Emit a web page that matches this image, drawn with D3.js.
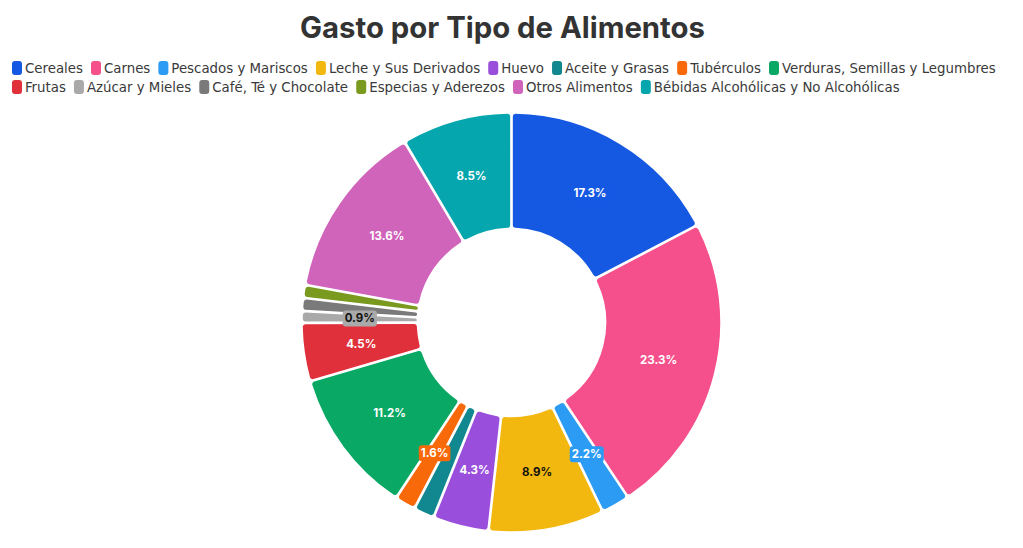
<!DOCTYPE html>
<html>
<head>
<meta charset="utf-8">
<script src="https://cdn.jsdelivr.net/npm/d3@7/dist/d3.min.js"></script>
<style>
  html, body { margin: 0; padding: 0; background: #fff; }
  svg { display: block; }
</style>
</head>
<body>
<svg id="chart" width="1023" height="548"></svg>
<script>
const categories = ["Cereales", "Carnes", "Pescados y Mariscos", "Leche y Sus Derivados", "Huevo",
  "Aceite y Grasas", "Tubérculos", "Verduras, Semillas y Legumbres", "Frutas", "Azúcar y Mieles",
  "Café, Té y Chocolate", "Especias y Aderezos", "Otros Alimentos", "Bébidas Alcohólicas y No Alcohólicas"];
const values = [17.3, 23.3, 2.2, 8.9, 4.3, 1.6, 1.6, 11.2, 4.5, 0.9, 1.0, 1.0, 13.6, 8.5];
const colors = ["#1559e3", "#f5508b", "#2b9bf4", "#f2b80f", "#9a4fdc", "#11878f", "#f86909",
  "#0aa865", "#e0303b", "#a9a9a9", "#7a7a7a", "#7a9a1f", "#d063ba", "#05a6ad"];
// labels that get dropped because they collide with a neighbour
const hiddenLabels = ["Aceite y Grasas", "Café, Té y Chocolate", "Especias y Aderezos"];
const darkText = ["Leche y Sus Derivados", "Azúcar y Mieles"];

const width = 1023, height = 548;
const svg = d3.select("#chart");
const cx = 511.5, cy = 322.5, outerR = 209.5, innerR = 94;

// title
const title = svg.append("text").attr("x", 502.5).attr("y", 38)
  .attr("text-anchor", "middle").attr("fill", "#333")
  .style("font-family", "Inter, 'Open Sans', sans-serif").style("font-weight", 700)
  .style("font-size", "26px").text("Gasto por Tipo de Alimentos");
const tw = title.node().getComputedTextLength();
title.style("font-size", (26 * 405 / tw).toFixed(2) + "px");

// legend, left aligned rows
const color = d3.scaleOrdinal().domain(categories).range(colors);
const legendFont = "'Liberation Sans Narrow', 'DejaVu Sans Condensed', Roboto, sans-serif";
const legend = svg.append("g");
const rows = [categories.slice(0, 8), categories.slice(8)];
const rowY = [68, 87];
// measure at a base size then fit the first row into its span
const probe = legend.append("text").style("font-family", legendFont).style("font-size", "14px");
const w14 = categories.map(c => probe.text(c).node().getComputedTextLength());
probe.remove();
const row1Text = d3.sum(w14.slice(0, 8));
const fs = 14 * (984 - 8 * 13 - 7 * 8) / row1Text;
const k = fs / 14;
rows.forEach((row, r) => {
  let x = 12;
  row.forEach(c => {
    const i = categories.indexOf(c);
    const g = legend.append("g").attr("transform", `translate(${x},${rowY[r]})`);
    g.append("rect").attr("x", 0).attr("y", -7).attr("width", 10).attr("height", 14)
      .attr("rx", 3).attr("fill", color(c));
    g.append("text").attr("x", 13).attr("y", 0).attr("dy", "0.35em")
      .style("font-family", legendFont).style("font-size", fs.toFixed(2) + "px")
      .attr("fill", "#3a3a3a").text(c);
    x += 13 + w14[i] * k + 8;
  });
});

// donut
const pie = d3.pie().sort(null).value(d => d.value);
const data = pie(categories.map((c, i) => ({ name: c, value: values[i] })));
const total = d3.sum(values);
const arc = d3.arc().innerRadius(innerR).outerRadius(outerR).cornerRadius(3.5).padAngle(0.005);
const labelArc = d3.arc().innerRadius((innerR + outerR) / 2).outerRadius((innerR + outerR) / 2);

const g = svg.append("g").attr("transform", `translate(${cx},${cy})`);
g.selectAll("path").data(data).join("path")
  .attr("d", arc).attr("fill", d => color(d.data.name))
  .attr("stroke", "#fff").attr("stroke-width", 1.5);

const labels = g.selectAll(".lbl").data(data.filter(d => !hiddenLabels.includes(d.data.name)))
  .join("g").attr("class", "lbl")
  .attr("transform", d => `translate(${labelArc.centroid(d)})`);
labels.each(function (d) {
  const el = d3.select(this);
  const t = el.append("text").attr("text-anchor", "middle").attr("dy", "0.35em")
    .style("font-family", "Inter, sans-serif").style("font-weight", 700).style("font-size", "11.5px")
    .attr("fill", darkText.includes(d.data.name) ? "#111" : "#fff")
    .text((d.data.value / total * 100).toFixed(1) + "%");
  const bb = t.node().getBBox();
  el.insert("rect", "text").attr("x", bb.x - 2).attr("y", bb.y - 1)
    .attr("width", bb.width + 4).attr("height", bb.height + 2).attr("rx", 3)
    .attr("fill", color(d.data.name));
});
</script>
</body>
</html>
